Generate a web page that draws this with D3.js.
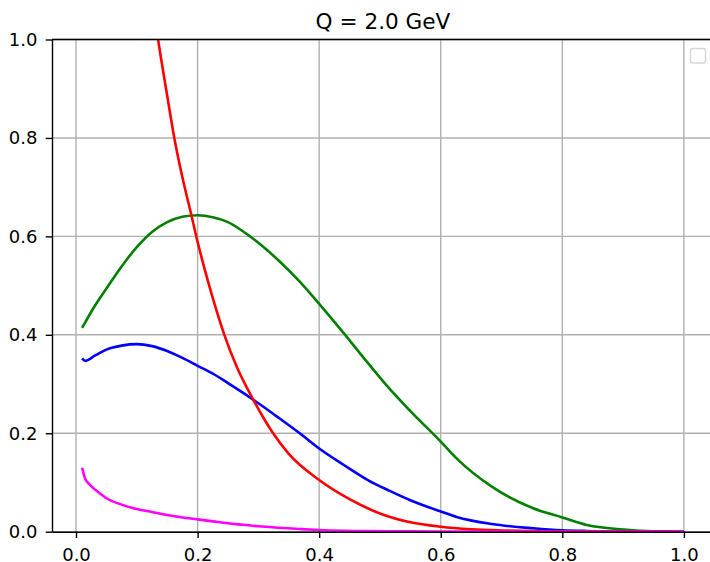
<!DOCTYPE html>
<html>
<head>
<meta charset="utf-8">
<script src="https://cdn.jsdelivr.net/npm/d3@7"></script>
<style>
  body { margin: 0; background: #fff; }
  text { font-family: "DejaVu Sans", sans-serif; }
</style>
</head>
<body>
<svg width="710" height="562"></svg>
<script>
// values (Q = 2.0 GeV)
var xGrid = [0.01, 0.015, 0.02, 0.03, 0.04, 0.05, 0.075, 0.1, 0.125, 0.15, 0.175, 0.2, 0.225, 0.25, 0.275, 0.3,
  0.335, 0.368, 0.4, 0.44, 0.48, 0.516, 0.55, 0.6, 0.626, 0.684, 0.752, 0.8, 0.84, 0.906, 0.95, 1.0];

var greenVals = [0.414, 0.425, 0.436, 0.457, 0.476, 0.494, 0.539, 0.578, 0.609, 0.629, 0.640, 0.643, 0.639, 0.629, 0.610, 0.587,
  0.549, 0.508, 0.463, 0.404, 0.343, 0.290, 0.245, 0.183, 0.149, 0.0915, 0.0475, 0.029, 0.0136, 0.004, 0.001, 0];

var blueVals = [0.352, 0.347, 0.349, 0.357, 0.364, 0.370, 0.378, 0.381, 0.377, 0.367, 0.353, 0.337, 0.321, 0.302, 0.282, 0.261,
  0.230, 0.200, 0.169, 0.136, 0.105, 0.083, 0.064, 0.041, 0.030, 0.0156, 0.007, 0.003, 0.0015, 0.0005, 0.0002, 0];

var magentaVals = [0.130, 0.108, 0.099, 0.087, 0.077, 0.068, 0.055, 0.046, 0.040, 0.034, 0.029, 0.025, 0.021, 0.017, 0.014, 0.011,
  0.008, 0.0055, 0.0035, 0.002, 0.0013, 0.0009, 0.0006, 0.0003, 0.0002, 0.0001, 0.00005, 0, 0, 0, 0, 0];

var xRed = [0.12, 0.135, 0.15, 0.1617, 0.175, 0.19, 0.2, 0.2106, 0.2259, 0.244, 0.2644, 0.2917, 0.311, 0.3215, 0.35, 0.4,
  0.45, 0.5, 0.55, 0.6, 0.65, 0.7, 0.75, 0.8, 0.9, 1.0];
var redVals = [1.13, 1.0, 0.886, 0.8, 0.72, 0.642, 0.589, 0.538, 0.471, 0.400, 0.335, 0.268, 0.226, 0.205, 0.158, 0.105,
  0.066, 0.037, 0.019, 0.010, 0.005, 0.0025, 0.0011, 0.0005, 0.0001, 0];

var xTicks = [0.0, 0.2, 0.4, 0.6, 0.8, 1.0];
var yTicks = [0.0, 0.2, 0.4, 0.6, 0.8, 1.0];
var title = "Q = 2.0 GeV";

var svg = d3.select("svg"),
  plotLeft = 52, plotRight = 714, plotTop = 39.5, plotBottom = 531.7;

// matplotlib style 5% margins on x
var xMin = 0.01, xMax = 1.0, pad = (xMax - xMin) * 0.05;
var x = d3.scaleLinear().domain([xMin - pad, xMax + pad]).range([plotLeft, plotRight]);
var y = d3.scaleLinear().domain([0, 1]).range([plotBottom, plotTop]);

svg.append("defs").append("clipPath").attr("id", "clip")
  .append("rect")
  .attr("x", plotLeft).attr("y", plotTop)
  .attr("width", plotRight - plotLeft).attr("height", plotBottom - plotTop);

// grid
var grid = svg.append("g").attr("stroke", "#b0b0b0").attr("stroke-width", 1.4);
grid.selectAll(".gx").data(xTicks).enter().append("line")
  .attr("x1", d => x(d)).attr("x2", d => x(d))
  .attr("y1", plotTop).attr("y2", plotBottom);
grid.selectAll(".gy").data(yTicks).enter().append("line")
  .attr("x1", plotLeft).attr("x2", plotRight)
  .attr("y1", d => y(d)).attr("y2", d => y(d));

// curves
var series = [
  {xs: xGrid, ys: greenVals, color: "green"},
  {xs: xGrid, ys: blueVals, color: "blue"},
  {xs: xRed, ys: redVals, color: "red"},
  {xs: xGrid, ys: magentaVals, color: "magenta"}
];

var line = d3.line()
  .curve(d3.curveMonotoneX)
  .x(d => x(d[0]))
  .y(d => y(d[1]));

svg.append("g").attr("clip-path", "url(#clip)")
  .selectAll("path")
  .data(series)
  .enter()
  .append("path")
  .attr("d", d => line(d.xs.map((v, i) => [v, d.ys[i]])))
  .attr("fill", "none")
  .attr("stroke", d => d.color)
  .attr("stroke-width", 2.6)
  .attr("stroke-linejoin", "round");

// axes
var xAxis = svg.append("g")
  .attr("transform", "translate(0," + plotBottom + ")")
  .call(d3.axisBottom(x).tickValues(xTicks).tickFormat(d3.format(".1f"))
    .tickSize(6.3).tickSizeOuter(0).tickPadding(10));

var yAxis = svg.append("g")
  .attr("transform", "translate(" + plotLeft + ",0)")
  .call(d3.axisLeft(y).tickValues(yTicks).tickFormat(d3.format(".1f"))
    .tickSize(6.3).tickSizeOuter(0).tickPadding(8.2));

[xAxis, yAxis].forEach(function (g) {
  g.attr("font-size", null).attr("font-family", null);
  g.select(".domain").attr("stroke", "#000").attr("stroke-width", 1.4);
  g.selectAll(".tick line").attr("stroke", "#000").attr("stroke-width", 1.4);
  g.selectAll(".tick text").attr("fill", "#000").style("font-size", "18px");
});

// top spine (right spine falls outside the picture)
svg.append("line")
  .attr("x1", plotLeft).attr("x2", plotRight)
  .attr("y1", plotTop).attr("y2", plotTop)
  .attr("stroke", "#000").attr("stroke-width", 1.4);

// title
svg.append("text")
  .attr("x", (plotLeft + plotRight) / 2)
  .attr("y", 28.5)
  .attr("text-anchor", "middle")
  .style("font-size", "21.6px")
  .attr("fill", "#000")
  .text(title);

// empty legend frame
svg.append("rect")
  .attr("x", 690.5).attr("y", 48.5)
  .attr("width", 15).attr("height", 14.5)
  .attr("rx", 2.5)
  .attr("fill", "#fff")
  .attr("fill-opacity", 0.8)
  .attr("stroke", "#d6d6d6")
  .attr("stroke-width", 1.4);
</script>
</body>
</html>
